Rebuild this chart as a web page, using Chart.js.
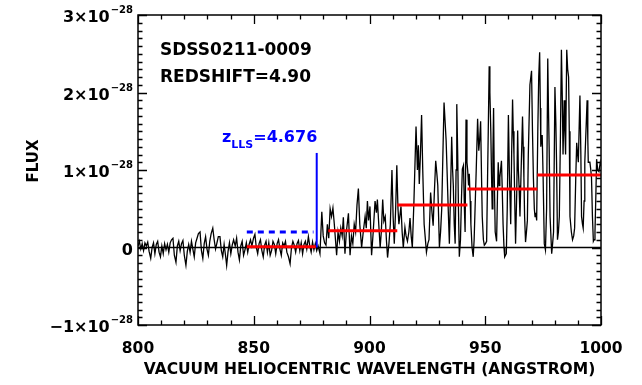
<!DOCTYPE html>
<html>
<head>
<meta charset="utf-8">
<script src="https://cdn.jsdelivr.net/npm/chart.js@4"></script>
<style>
  html, body { margin: 0; background: #fff; }
  canvas { display: block; }
</style>
</head>
<body>
<canvas id="spec" width="642" height="385"></canvas>
<script>
/* ===== data (flux in units of 1e-28) ===== */
const wavelength = [
  800.0, 800.6, 801.2, 801.8, 802.4, 803.0, 803.6, 804.2, 804.8, 805.5,
  806.1, 806.7, 807.3, 807.9, 808.5, 809.1, 809.7, 810.3, 810.9, 811.5,
  812.1, 812.7, 813.3, 813.9, 814.5, 815.1, 815.7, 816.4, 817.0, 817.6,
  818.2, 818.8, 819.4, 820.0, 820.7, 821.3, 821.9, 822.5, 823.1, 823.7,
  824.3, 824.9, 825.5, 826.1, 826.8, 827.4, 828.0, 828.6, 829.2, 829.8,
  830.4, 831.0, 831.6, 832.3, 832.9, 833.5, 834.1, 834.7, 835.4, 836.0,
  836.6, 837.2, 837.8, 838.3, 838.9, 839.5, 840.1, 840.7, 841.3, 842.0,
  842.6, 843.2, 843.8, 844.4, 845.0, 845.6, 846.2, 846.8, 847.4, 848.0,
  848.6, 849.2, 849.9, 850.5, 851.1, 851.7, 852.3, 852.9, 853.5, 854.1,
  854.7, 855.3, 855.9, 856.5, 857.1, 857.7, 858.3, 858.9, 859.5, 860.1,
  860.7, 861.3, 861.9, 862.5, 863.1, 863.7, 864.3, 865.0, 865.7, 866.3,
  866.9, 867.5, 868.1, 868.7, 869.3, 869.9, 870.5, 871.1, 871.7, 872.3,
  872.9, 873.6, 874.2, 874.8, 875.4, 876.0, 876.6, 877.2, 877.8, 878.6,
  879.4, 880.0, 880.6, 881.2, 881.8, 882.4, 883.0, 883.6, 884.2, 884.8,
  885.3, 885.8, 886.4, 887.0, 887.6, 888.2, 888.7, 889.4, 890.0, 890.9,
  891.6, 892.2, 892.8, 893.4, 894.0, 894.6, 895.2, 895.8, 896.6, 897.3,
  898.1, 898.6, 899.1, 899.6, 900.2, 900.9, 901.6, 902.4, 903.0, 903.4,
  904.0, 904.6, 905.1, 905.7, 906.2, 906.8, 907.3, 907.8, 908.4, 909.0,
  909.7, 910.2, 910.7, 911.3, 911.8, 912.3, 912.7, 913.6, 914.1, 914.6,
  915.3, 915.8, 916.4, 917.0, 917.5, 918.0, 918.5, 919.2, 920.1, 920.7,
  921.1, 921.5, 922.0, 922.5, 923.0, 923.6, 924.6, 925.2, 925.7, 926.4,
  927.0, 927.5, 928.0, 928.6, 929.1, 929.5, 930.2, 930.7, 931.2, 931.7,
  932.2, 932.7, 933.1, 933.6, 934.0, 934.5, 935.0, 935.5, 935.9, 936.2,
  936.6, 937.0, 937.4, 937.7, 938.1, 938.4, 938.8, 939.3, 939.7, 940.1,
  940.6, 941.0, 941.3, 941.7, 942.1, 942.4, 942.8, 943.1, 943.5, 943.8,
  944.3, 944.8, 945.2, 945.6, 946.1, 946.7, 947.2, 947.6, 948.0, 948.4,
  948.7, 949.2, 949.6, 950.1, 950.6, 951.0, 951.3, 951.7, 952.0, 952.4,
  952.7, 953.0, 953.3, 953.6, 953.9, 954.3, 954.9, 955.3, 955.6, 956.0,
  956.3, 957.0, 957.3, 957.7, 958.1, 958.4, 959.1, 959.5, 960.0, 960.4,
  961.0, 961.4, 961.8, 962.1, 962.4, 962.8, 963.1, 963.6, 964.0, 964.3,
  964.6, 965.0, 965.5, 966.1, 966.4, 966.7, 967.0, 967.4, 967.8, 968.2,
  968.6, 969.3, 970.0, 970.4, 970.8, 971.2, 971.5, 971.9, 972.2, 972.7,
  973.1, 973.5, 973.8, 974.0, 974.3, 974.6, 975.0, 975.5, 976.0, 976.5,
  977.0, 977.3, 977.6, 978.0, 978.7, 979.1, 979.5, 980.1, 980.5, 980.8,
  981.2, 981.6, 982.0, 982.5, 982.9, 983.3, 983.6, 984.1, 984.4, 984.7,
  985.2, 985.6, 986.0, 986.3, 986.6, 987.2, 987.7, 988.2, 988.6, 989.1,
  989.5, 989.9, 990.2, 990.9, 991.3, 991.6, 992.0, 992.3, 992.7, 993.0,
  994.0, 994.3, 994.5, 995.2, 995.6, 995.9, 996.3, 996.7, 997.0, 997.4,
  997.8, 998.1, 998.6, 999.1, 999.7, 1000.0
];
const flux = [
  0.02, 0.08, -0.02, 0.05, -0.04, 0.06, 0.02, 0.07, -0.05, -0.14,
  0.00, 0.06, -0.08, 0.04, 0.08, -0.06, -0.12, 0.02, -0.08, 0.05,
  -0.03, 0.04, -0.06, 0.06, 0.10, 0.12, -0.10, -0.19, 0.02, 0.08,
  -0.04, 0.05, 0.09, -0.10, -0.23, -0.05, 0.04, -0.06, 0.08, -0.02,
  -0.12, 0.06, 0.12, 0.18, 0.20, -0.04, -0.14, 0.05, 0.14, -0.02,
  -0.10, 0.08, 0.18, 0.25, 0.10, -0.02, 0.06, 0.14, 0.14, -0.04,
  -0.12, 0.04, -0.10, -0.23, -0.05, 0.06, -0.08, 0.03, 0.10, 0.02,
  0.12, -0.06, -0.16, 0.02, 0.08, -0.10, -0.03, 0.06, -0.06, 0.04,
  0.10, 0.02, 0.12, 0.17, 0.00, -0.08, 0.05, 0.10, -0.04, -0.12,
  0.03, 0.08, -0.06, 0.06, -0.10, -0.04, 0.08, 0.04, -0.08, 0.05,
  0.10, -0.02, -0.10, 0.06, 0.02, 0.08, -0.06, -0.12, -0.21, 0.00,
  0.08, 0.03, -0.06, 0.05, 0.09, -0.04, 0.06, -0.08, 0.04, 0.08,
  -0.02, 0.14, 0.02, -0.06, 0.07, -0.03, 0.05, -0.04, 0.02, -0.08,
  0.46, 0.15, 0.06, 0.03, 0.30, 0.12, 0.50, 0.40, 0.51, 0.30,
  0.10, -0.10, 0.20, 0.08, 0.25, 0.15, 0.39, -0.08, 0.20, 0.44,
  -0.10, 0.15, 0.05, 0.30, 0.20, 0.55, 0.76, 0.30, 0.00, 0.20,
  0.40, 0.25, 0.60, 0.35, 0.53, -0.10, 0.20, 0.60, 0.45, 0.62,
  0.30, 0.00, 0.20, 0.62, 0.34, 0.40, 0.10, -0.13, 0.05, 0.30,
  1.00, 0.40, 0.05, 0.50, 1.06, 0.50, 0.30, 0.53, 0.20, 0.00,
  0.26, 0.15, 0.08, 0.20, 0.38, 0.15, 0.00, 0.60, 1.56, 1.00,
  1.32, 0.82, 1.20, 1.71, 1.00, 0.30, -0.06, 0.05, 0.10, 0.71,
  0.45, 0.28, 0.70, 1.12, 0.95, 0.80, 0.00, 0.20, 0.50, 1.20,
  1.87, 1.60, 1.38, 0.90, 0.50, 0.05, 0.70, 1.43, 1.00, 0.80,
  0.30, 0.05, 1.00, 1.85, 1.20, 0.55, -0.12, 0.10, 0.60, 1.01,
  1.06, 0.50, 0.20, 1.65, 1.10, 1.00, 0.80, 0.95, 0.60, 0.30,
  0.00, -0.12, 0.10, 0.50, 1.00, 1.66, 1.25, 1.40, 1.63, 0.90,
  0.40, 0.10, 0.03, 0.05, 0.08, 0.90, 1.50, 2.34, 2.00, 1.50,
  0.95, 0.50, 1.20, 1.80, 0.90, 0.20, 0.08, 0.70, 1.10, 0.80,
  0.90, 1.12, 0.80, 0.30, 0.00, -0.12, -0.08, 0.50, 1.71, 1.00,
  0.30, 1.20, 1.91, 1.50, 1.20, 0.50, 0.05, 0.70, 1.51, 1.00,
  0.80, 0.40, 1.00, 1.69, 1.30, 0.90, 0.40, 0.07, 0.20, 0.35,
  1.20, 2.10, 2.28, 1.50, 0.90, 0.50, 0.40, 0.45, 0.35, 1.50,
  2.20, 2.52, 1.80, 1.30, 1.40, 1.45, 0.90, 0.05, -0.03, 0.50,
  2.44, 1.80, 1.30, 0.40, -0.08, 0.05, 0.20, 2.07, 1.60, 1.10,
  0.10, 0.20, 0.40, 1.50, 2.55, 1.90, 1.20, 1.90, 1.50, 1.20,
  2.55, 2.30, 2.20, 1.50, 0.40, 0.20, 0.10, 0.15, 0.25, 0.90,
  1.35, 1.20, 1.10, 1.96, 1.20, 0.40, 0.30, 0.25, 0.60, 1.10,
  1.90, 1.40, 1.10, 1.10, 1.00, 0.90, 0.40, 0.08, 0.10, 0.20,
  0.70, 1.14, 1.00, 0.98, 1.10, 1.05
];

// mean-flux bins (red)
const binStart = [847.0, 882.2, 912.0, 942.3, 972.5];
const binEnd   = [876.8, 912.0, 942.3, 972.5, 1000.0];
const binFlux  = [0.01, 0.217, 0.548, 0.755, 0.935];

// Lyman limit system marker (blue)
const llsWave = 877.2;
const llsTop = 1.22;
const llsDashWave = [847.0, 875.8];
const llsDashFlux = 0.20;

const xRange = [800, 1000];
const yRange = [-1, 3];
const xMajor = [800, 850, 900, 950, 1000];
const yMajor = [-1, 0, 1, 2, 3];
const yMantissa = ['\u22121\u00d710', '0', '1\u00d710', '2\u00d710', '3\u00d710'];
const yExponent = '\u221228';
const infoLines = ['SDSS0211-0009', 'REDSHIFT=4.90'];

/* ===== frame, ticks, labels (IDL look) ===== */
const FONT = '"DejaVu Sans"';
const idlFrame = {
  id: 'idlFrame',
  afterDatasetsDraw(chart) {
    const { ctx, chartArea: a, scales: { x, y } } = chart;
    ctx.save();
    ctx.strokeStyle = '#000';
    ctx.lineWidth = 1.5;
    ctx.strokeRect(a.left, a.top, a.right - a.left, a.bottom - a.top);

    // x ticks: minor every 10, major every 50, inward, top + bottom
    ctx.lineWidth = 1.3;
    ctx.beginPath();
    for (let v = xRange[0]; v <= xRange[1]; v += 10) {
      const px = Math.round(x.getPixelForValue(v)) + 0.5;
      const len = xMajor.includes(v) ? 9 : 4.5;
      ctx.moveTo(px, a.bottom); ctx.lineTo(px, a.bottom - len);
      ctx.moveTo(px, a.top); ctx.lineTo(px, a.top + len);
    }
    // y ticks: minor every 0.1, major every 1, inward, left + right
    for (let i = yRange[0] * 10; i <= yRange[1] * 10; i++) {
      const py = Math.round(y.getPixelForValue(i / 10)) + 0.5;
      const len = i % 10 === 0 ? 9 : 4.5;
      ctx.moveTo(a.left, py); ctx.lineTo(a.left + len, py);
      ctx.moveTo(a.right, py); ctx.lineTo(a.right - len, py);
    }
    ctx.stroke();

    ctx.fillStyle = '#000';
    ctx.textBaseline = 'alphabetic';

    // x tick labels
    ctx.font = `bold 15.5px ${FONT}`;
    ctx.textAlign = 'center';
    xMajor.forEach(v => ctx.fillText(String(v), x.getPixelForValue(v), 353));

    // x title
    ctx.font = `bold 15.5px ${FONT}`;
    ctx.fillText('VACUUM HELIOCENTRIC WAVELENGTH (ANGSTROM)', (a.left + a.right) / 2, 374);

    // y tick labels with superscript exponent
    ctx.textAlign = 'right';
    yMajor.forEach((v, i) => {
      const py = y.getPixelForValue(v);
      const base = py + 7;
      let right = 133;
      if (v !== 0) {
        ctx.font = `bold 10px ${FONT}`;
        ctx.fillText(yExponent, right, base - 9);
        right -= ctx.measureText(yExponent).width + 1;
      }
      ctx.font = `bold 16px ${FONT}`;
      ctx.fillText(yMantissa[i], right, base);
    });

    // y title
    ctx.save();
    ctx.translate(38, 161);
    ctx.rotate(-Math.PI / 2);
    ctx.textAlign = 'center';
    ctx.font = `bold 15px ${FONT}`;
    ctx.fillText('FLUX', 0, 0);
    ctx.restore();

    // object info
    ctx.textAlign = 'left';
    ctx.font = `bold 17px ${FONT}`;
    ctx.fillText(infoLines[0], 160, 55);
    ctx.fillText(infoLines[1], 160, 82);

    // z_LLS label
    ctx.fillStyle = '#0000ff';
    let lx = 222;
    ctx.font = `bold 16px ${FONT}`;
    ctx.fillText('z', lx, 142);
    lx += ctx.measureText('z').width;
    ctx.font = `bold 11px ${FONT}`;
    ctx.fillText('LLS', lx, 148);
    lx += ctx.measureText('LLS').width;
    ctx.font = `bold 16px ${FONT}`;
    ctx.fillText('=4.676', lx, 142);
    ctx.restore();
  }
};

/* ===== datasets ===== */
const spectrum = wavelength.map((w, i) => ({ x: w, y: flux[i] }));
const bins = binStart.map((s, i) => ({
  data: [{ x: s, y: binFlux[i] }, { x: binEnd[i], y: binFlux[i] }],
  showLine: true, borderColor: '#ff0000', borderWidth: 3, pointRadius: 0, order: 0
}));

new Chart(document.getElementById('spec'), {
  type: 'scatter',
  data: {
    datasets: [
      ...bins,
      { data: [{ x: llsDashWave[0], y: llsDashFlux }, { x: llsDashWave[1], y: llsDashFlux }],
        showLine: true, borderColor: '#0000ff', borderWidth: 3, borderDash: [6, 5], pointRadius: 0, order: 1 },
      { data: [{ x: llsWave, y: 0 }, { x: llsWave, y: llsTop }],
        showLine: true, borderColor: '#0000ff', borderWidth: 2, pointRadius: 0, order: 1 },
      { data: spectrum, showLine: true, borderColor: '#000', borderWidth: 1.3, pointRadius: 0, tension: 0, order: 2 },
      { data: [{ x: xRange[0], y: 0 }, { x: xRange[1], y: 0 }],
        showLine: true, borderColor: '#000', borderWidth: 1.5, pointRadius: 0, order: 3 }
    ]
  },
  options: {
    responsive: false,
    animation: false,
    layout: { padding: { left: 138, right: 41, top: 15, bottom: 60 } },
    scales: {
      x: { type: 'linear', min: xRange[0], max: xRange[1], display: false },
      y: { type: 'linear', min: yRange[0], max: yRange[1], display: false }
    },
    plugins: { legend: { display: false }, tooltip: { enabled: false } }
  },
  plugins: [idlFrame]
});
</script>
</body>
</html>
